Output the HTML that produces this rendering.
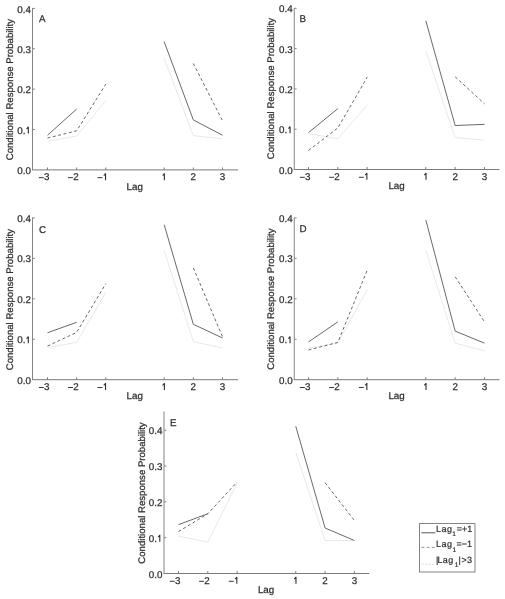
<!DOCTYPE html>
<html><head><meta charset="utf-8"><style>
html,body{margin:0;padding:0;background:#fff;}
svg{display:block;will-change:transform;text-rendering:geometricPrecision;}
.t{font-family:"Liberation Sans", sans-serif;font-size:9.8px;fill:#2e2e2e;stroke:#2e2e2e;stroke-width:0.25px;}
.l{font-family:"Liberation Sans", sans-serif;fill:#2e2e2e;stroke:#2e2e2e;stroke-width:0.2px;}
</style></head><body>
<svg width="505" height="599" viewBox="0 0 505 599">
<rect width="505" height="599" fill="#fff"/>
<path d="M32.50 8.00V169.90" fill="none" stroke="#848484" stroke-width="1"/>
<path d="M32.00 169.90H238.00" fill="none" stroke="#7a7a7a" stroke-width="1"/>
<text x="30.90" y="174.00" text-anchor="end" class="t">0.0</text>
<path d="M32.50 129.53h2.4" stroke="#848484" stroke-width="1"/>
<text x="17.30" y="133.62" class="t">0.</text>
<path d="M26.50 128.82Q27.80 128.22 28.30 126.72V133.62" fill="none" stroke="#2e2e2e" stroke-width="1.1"/>
<path d="M32.50 89.15h2.4" stroke="#848484" stroke-width="1"/>
<text x="30.90" y="93.25" text-anchor="end" class="t">0.2</text>
<path d="M32.50 48.78h2.4" stroke="#848484" stroke-width="1"/>
<text x="30.90" y="52.88" text-anchor="end" class="t">0.3</text>
<path d="M32.50 8.40h2.4" stroke="#848484" stroke-width="1"/>
<text x="30.90" y="12.50" text-anchor="end" class="t">0.4</text>
<path d="M47.49 169.90v-2.4" stroke="#7a7a7a" stroke-width="1"/>
<rect x="38.79" y="177.20" width="5.0" height="0.95" fill="#2e2e2e"/>
<text x="43.99" y="180.20" class="t">3</text>
<path d="M76.66 169.90v-2.4" stroke="#7a7a7a" stroke-width="1"/>
<rect x="67.96" y="177.20" width="5.0" height="0.95" fill="#2e2e2e"/>
<text x="73.16" y="180.20" class="t">2</text>
<path d="M105.83 169.90v-2.4" stroke="#7a7a7a" stroke-width="1"/>
<rect x="97.43" y="177.20" width="5.0" height="0.95" fill="#2e2e2e"/>
<path d="M103.73 175.40Q105.03 174.80 105.53 173.30V180.20" fill="none" stroke="#2e2e2e" stroke-width="1.1"/>
<path d="M164.17 169.90v-2.4" stroke="#7a7a7a" stroke-width="1"/>
<path d="M162.57 175.40Q163.87 174.80 164.37 173.30V180.20" fill="none" stroke="#2e2e2e" stroke-width="1.1"/>
<path d="M193.34 169.90v-2.4" stroke="#7a7a7a" stroke-width="1"/>
<text x="193.34" y="180.20" text-anchor="middle" class="t">2</text>
<path d="M222.51 169.90v-2.4" stroke="#7a7a7a" stroke-width="1"/>
<text x="222.51" y="180.20" text-anchor="middle" class="t">3</text>
<text x="134.80" y="189.60" text-anchor="middle" class="t">Lag</text>
<text transform="translate(13.30 89.60) rotate(-90)" text-anchor="middle" class="t" style="font-size:9.6px">Conditional Response Probability</text>
<text x="38.90" y="21.90" class="t">A</text>
<path d="M47.49 141.29 L76.66 136.05 L105.83 100.59" fill="none" stroke="#e9e9e9" stroke-width="1.0"/>
<path d="M164.17 58.27 L193.34 135.65 L222.51 138.87" fill="none" stroke="#e9e9e9" stroke-width="1.0"/>
<path d="M47.49 138.07 L76.66 130.81 L105.83 84.06" fill="none" stroke="#686868" stroke-width="1.0" stroke-dasharray="3 2.5"/>
<path d="M193.34 63.51 L222.51 120.74" fill="none" stroke="#686868" stroke-width="1.0" stroke-dasharray="3 2.5"/>
<path d="M47.49 135.25 L76.66 109.05" fill="none" stroke="#6a6a6a" stroke-width="1.0"/>
<path d="M164.17 41.75 L193.34 119.93 L222.51 135.25" fill="none" stroke="#6a6a6a" stroke-width="1.0"/>
<path d="M294.25 8.00V169.50" fill="none" stroke="#848484" stroke-width="1"/>
<path d="M293.75 169.50H499.50" fill="none" stroke="#7a7a7a" stroke-width="1"/>
<text x="292.65" y="173.60" text-anchor="end" class="t">0.0</text>
<path d="M294.25 129.20h2.4" stroke="#848484" stroke-width="1"/>
<text x="279.05" y="133.30" class="t">0.</text>
<path d="M288.25 128.50Q289.55 127.90 290.05 126.40V133.30" fill="none" stroke="#2e2e2e" stroke-width="1.1"/>
<path d="M294.25 88.90h2.4" stroke="#848484" stroke-width="1"/>
<text x="292.65" y="93.00" text-anchor="end" class="t">0.2</text>
<path d="M294.25 48.60h2.4" stroke="#848484" stroke-width="1"/>
<text x="292.65" y="52.70" text-anchor="end" class="t">0.3</text>
<path d="M294.25 8.30h2.4" stroke="#848484" stroke-width="1"/>
<text x="292.65" y="12.40" text-anchor="end" class="t">0.4</text>
<path d="M308.51 169.50v-2.4" stroke="#7a7a7a" stroke-width="1"/>
<rect x="299.81" y="176.80" width="5.0" height="0.95" fill="#2e2e2e"/>
<text x="305.01" y="179.80" class="t">3</text>
<path d="M337.84 169.50v-2.4" stroke="#7a7a7a" stroke-width="1"/>
<rect x="329.14" y="176.80" width="5.0" height="0.95" fill="#2e2e2e"/>
<text x="334.34" y="179.80" class="t">2</text>
<path d="M367.17 169.50v-2.4" stroke="#7a7a7a" stroke-width="1"/>
<rect x="358.77" y="176.80" width="5.0" height="0.95" fill="#2e2e2e"/>
<path d="M365.07 175.00Q366.37 174.40 366.87 172.90V179.80" fill="none" stroke="#2e2e2e" stroke-width="1.1"/>
<path d="M425.83 169.50v-2.4" stroke="#7a7a7a" stroke-width="1"/>
<path d="M424.23 175.00Q425.53 174.40 426.03 172.90V179.80" fill="none" stroke="#2e2e2e" stroke-width="1.1"/>
<path d="M455.16 169.50v-2.4" stroke="#7a7a7a" stroke-width="1"/>
<text x="455.16" y="179.80" text-anchor="middle" class="t">2</text>
<path d="M484.49 169.50v-2.4" stroke="#7a7a7a" stroke-width="1"/>
<text x="484.49" y="179.80" text-anchor="middle" class="t">3</text>
<text x="396.60" y="189.30" text-anchor="middle" class="t">Lag</text>
<text transform="translate(274.05 88.60) rotate(-90)" text-anchor="middle" class="t" style="font-size:9.6px">Conditional Response Probability</text>
<text x="299.60" y="21.80" class="t">B</text>
<path d="M308.51 133.58 L337.84 138.81 L367.17 105.00" fill="none" stroke="#e9e9e9" stroke-width="1.0"/>
<path d="M425.83 51.07 L455.16 137.60 L484.49 140.02" fill="none" stroke="#e9e9e9" stroke-width="1.0"/>
<path d="M308.51 150.48 L337.84 127.94 L367.17 77.23" fill="none" stroke="#686868" stroke-width="1.0" stroke-dasharray="3 2.5"/>
<path d="M455.16 76.83 L484.49 103.79" fill="none" stroke="#686868" stroke-width="1.0" stroke-dasharray="3 2.5"/>
<path d="M308.51 132.57 L337.84 108.62" fill="none" stroke="#6a6a6a" stroke-width="1.0"/>
<path d="M425.83 20.88 L455.16 125.53 L484.49 124.32" fill="none" stroke="#6a6a6a" stroke-width="1.0"/>
<path d="M32.50 217.50V379.70" fill="none" stroke="#848484" stroke-width="1"/>
<path d="M32.00 379.70H238.00" fill="none" stroke="#7a7a7a" stroke-width="1"/>
<text x="30.90" y="383.80" text-anchor="end" class="t">0.0</text>
<path d="M32.50 339.25h2.4" stroke="#848484" stroke-width="1"/>
<text x="17.30" y="343.35" class="t">0.</text>
<path d="M26.50 338.55Q27.80 337.95 28.30 336.45V343.35" fill="none" stroke="#2e2e2e" stroke-width="1.1"/>
<path d="M32.50 298.80h2.4" stroke="#848484" stroke-width="1"/>
<text x="30.90" y="302.90" text-anchor="end" class="t">0.2</text>
<path d="M32.50 258.35h2.4" stroke="#848484" stroke-width="1"/>
<text x="30.90" y="262.45" text-anchor="end" class="t">0.3</text>
<path d="M32.50 217.90h2.4" stroke="#848484" stroke-width="1"/>
<text x="30.90" y="222.00" text-anchor="end" class="t">0.4</text>
<path d="M47.49 379.70v-2.4" stroke="#7a7a7a" stroke-width="1"/>
<rect x="38.79" y="387.00" width="5.0" height="0.95" fill="#2e2e2e"/>
<text x="43.99" y="390.00" class="t">3</text>
<path d="M76.66 379.70v-2.4" stroke="#7a7a7a" stroke-width="1"/>
<rect x="67.96" y="387.00" width="5.0" height="0.95" fill="#2e2e2e"/>
<text x="73.16" y="390.00" class="t">2</text>
<path d="M105.83 379.70v-2.4" stroke="#7a7a7a" stroke-width="1"/>
<rect x="97.43" y="387.00" width="5.0" height="0.95" fill="#2e2e2e"/>
<path d="M103.73 385.20Q105.03 384.60 105.53 383.10V390.00" fill="none" stroke="#2e2e2e" stroke-width="1.1"/>
<path d="M164.17 379.70v-2.4" stroke="#7a7a7a" stroke-width="1"/>
<path d="M162.57 385.20Q163.87 384.60 164.37 383.10V390.00" fill="none" stroke="#2e2e2e" stroke-width="1.1"/>
<path d="M193.34 379.70v-2.4" stroke="#7a7a7a" stroke-width="1"/>
<text x="193.34" y="390.00" text-anchor="middle" class="t">2</text>
<path d="M222.51 379.70v-2.4" stroke="#7a7a7a" stroke-width="1"/>
<text x="222.51" y="390.00" text-anchor="middle" class="t">3</text>
<text x="134.80" y="398.80" text-anchor="middle" class="t">Lag</text>
<text transform="translate(13.30 299.60) rotate(-90)" text-anchor="middle" class="t" style="font-size:9.6px">Conditional Response Probability</text>
<text x="38.90" y="232.70" class="t">C</text>
<path d="M47.49 347.66 L76.66 342.42 L105.83 292.45" fill="none" stroke="#e9e9e9" stroke-width="1.0"/>
<path d="M164.17 250.54 L193.34 341.62 L222.51 348.07" fill="none" stroke="#e9e9e9" stroke-width="1.0"/>
<path d="M47.49 346.05 L76.66 332.35 L105.83 283.59" fill="none" stroke="#686868" stroke-width="1.0" stroke-dasharray="3 2.5"/>
<path d="M193.34 267.87 L222.51 336.78" fill="none" stroke="#686868" stroke-width="1.0" stroke-dasharray="3 2.5"/>
<path d="M47.49 332.75 L76.66 322.27" fill="none" stroke="#6a6a6a" stroke-width="1.0"/>
<path d="M164.17 224.75 L193.34 324.29 L222.51 337.99" fill="none" stroke="#6a6a6a" stroke-width="1.0"/>
<path d="M294.25 217.50V379.70" fill="none" stroke="#848484" stroke-width="1"/>
<path d="M293.75 379.70H499.50" fill="none" stroke="#7a7a7a" stroke-width="1"/>
<text x="292.65" y="383.80" text-anchor="end" class="t">0.0</text>
<path d="M294.25 339.25h2.4" stroke="#848484" stroke-width="1"/>
<text x="279.05" y="343.35" class="t">0.</text>
<path d="M288.25 338.55Q289.55 337.95 290.05 336.45V343.35" fill="none" stroke="#2e2e2e" stroke-width="1.1"/>
<path d="M294.25 298.80h2.4" stroke="#848484" stroke-width="1"/>
<text x="292.65" y="302.90" text-anchor="end" class="t">0.2</text>
<path d="M294.25 258.35h2.4" stroke="#848484" stroke-width="1"/>
<text x="292.65" y="262.45" text-anchor="end" class="t">0.3</text>
<path d="M294.25 217.90h2.4" stroke="#848484" stroke-width="1"/>
<text x="292.65" y="222.00" text-anchor="end" class="t">0.4</text>
<path d="M308.51 379.70v-2.4" stroke="#7a7a7a" stroke-width="1"/>
<rect x="299.81" y="387.00" width="5.0" height="0.95" fill="#2e2e2e"/>
<text x="305.01" y="390.00" class="t">3</text>
<path d="M337.84 379.70v-2.4" stroke="#7a7a7a" stroke-width="1"/>
<rect x="329.14" y="387.00" width="5.0" height="0.95" fill="#2e2e2e"/>
<text x="334.34" y="390.00" class="t">2</text>
<path d="M367.17 379.70v-2.4" stroke="#7a7a7a" stroke-width="1"/>
<rect x="358.77" y="387.00" width="5.0" height="0.95" fill="#2e2e2e"/>
<path d="M365.07 385.20Q366.37 384.60 366.87 383.10V390.00" fill="none" stroke="#2e2e2e" stroke-width="1.1"/>
<path d="M425.83 379.70v-2.4" stroke="#7a7a7a" stroke-width="1"/>
<path d="M424.23 385.20Q425.53 384.60 426.03 383.10V390.00" fill="none" stroke="#2e2e2e" stroke-width="1.1"/>
<path d="M455.16 379.70v-2.4" stroke="#7a7a7a" stroke-width="1"/>
<text x="455.16" y="390.00" text-anchor="middle" class="t">2</text>
<path d="M484.49 379.70v-2.4" stroke="#7a7a7a" stroke-width="1"/>
<text x="484.49" y="390.00" text-anchor="middle" class="t">3</text>
<text x="396.60" y="398.80" text-anchor="middle" class="t">Lag</text>
<text transform="translate(274.05 299.10) rotate(-90)" text-anchor="middle" class="t" style="font-size:9.6px">Conditional Response Probability</text>
<text x="299.60" y="231.80" class="t">D</text>
<path d="M308.51 348.00 L337.84 343.17 L367.17 289.64" fill="none" stroke="#e9e9e9" stroke-width="1.0"/>
<path d="M425.83 250.20 L455.16 343.17 L484.49 350.82" fill="none" stroke="#e9e9e9" stroke-width="1.0"/>
<path d="M308.51 350.02 L337.84 342.37 L367.17 270.32" fill="none" stroke="#686868" stroke-width="1.0" stroke-dasharray="3 2.5"/>
<path d="M455.16 276.76 L484.49 321.84" fill="none" stroke="#686868" stroke-width="1.0" stroke-dasharray="3 2.5"/>
<path d="M308.51 341.97 L337.84 321.84" fill="none" stroke="#6a6a6a" stroke-width="1.0"/>
<path d="M425.83 220.01 L455.16 331.10 L484.49 343.17" fill="none" stroke="#6a6a6a" stroke-width="1.0"/>
<path d="M164.00 411.50V573.50" fill="none" stroke="#848484" stroke-width="1"/>
<path d="M163.50 573.50H369.40" fill="none" stroke="#7a7a7a" stroke-width="1"/>
<text x="162.40" y="577.60" text-anchor="end" class="t">0.0</text>
<path d="M164.00 537.67h2.4" stroke="#848484" stroke-width="1"/>
<text x="148.80" y="541.77" class="t">0.</text>
<path d="M158.00 536.97Q159.30 536.37 159.80 534.87V541.77" fill="none" stroke="#2e2e2e" stroke-width="1.1"/>
<path d="M164.00 501.84h2.4" stroke="#848484" stroke-width="1"/>
<text x="162.40" y="505.94" text-anchor="end" class="t">0.2</text>
<path d="M164.00 466.01h2.4" stroke="#848484" stroke-width="1"/>
<text x="162.40" y="470.11" text-anchor="end" class="t">0.3</text>
<path d="M164.00 430.18h2.4" stroke="#848484" stroke-width="1"/>
<text x="162.40" y="434.28" text-anchor="end" class="t">0.4</text>
<path d="M178.49 573.50v-2.4" stroke="#7a7a7a" stroke-width="1"/>
<rect x="169.79" y="580.80" width="5.0" height="0.95" fill="#2e2e2e"/>
<text x="174.99" y="583.80" class="t">3</text>
<path d="M207.81 573.50v-2.4" stroke="#7a7a7a" stroke-width="1"/>
<rect x="199.11" y="580.80" width="5.0" height="0.95" fill="#2e2e2e"/>
<text x="204.31" y="583.80" class="t">2</text>
<path d="M237.13 573.50v-2.4" stroke="#7a7a7a" stroke-width="1"/>
<rect x="228.73" y="580.80" width="5.0" height="0.95" fill="#2e2e2e"/>
<path d="M235.03 579.00Q236.33 578.40 236.83 576.90V583.80" fill="none" stroke="#2e2e2e" stroke-width="1.1"/>
<path d="M295.77 573.50v-2.4" stroke="#7a7a7a" stroke-width="1"/>
<path d="M294.17 579.00Q295.47 578.40 295.97 576.90V583.80" fill="none" stroke="#2e2e2e" stroke-width="1.1"/>
<path d="M325.09 573.50v-2.4" stroke="#7a7a7a" stroke-width="1"/>
<text x="325.09" y="583.80" text-anchor="middle" class="t">2</text>
<path d="M354.41 573.50v-2.4" stroke="#7a7a7a" stroke-width="1"/>
<text x="354.41" y="583.80" text-anchor="middle" class="t">3</text>
<text x="266.10" y="592.70" text-anchor="middle" class="t">Lag</text>
<text transform="translate(145.00 493.00) rotate(-90)" text-anchor="middle" class="t" style="font-size:9.6px">Conditional Response Probability</text>
<text x="169.90" y="426.00" class="t">E</text>
<path d="M178.49 536.23 L207.81 541.94 L237.13 483.04" fill="none" stroke="#e9e9e9" stroke-width="1.0"/>
<path d="M295.77 452.33 L325.09 540.51 L354.41 540.51" fill="none" stroke="#e9e9e9" stroke-width="1.0"/>
<path d="M178.49 531.59 L207.81 513.74 L237.13 481.97" fill="none" stroke="#686868" stroke-width="1.0" stroke-dasharray="3 2.5"/>
<path d="M325.09 482.68 L354.41 520.52" fill="none" stroke="#686868" stroke-width="1.0" stroke-dasharray="3 2.5"/>
<path d="M178.49 524.63 L207.81 513.74" fill="none" stroke="#6a6a6a" stroke-width="1.0"/>
<path d="M295.77 426.27 L325.09 528.02 L354.41 540.51" fill="none" stroke="#6a6a6a" stroke-width="1.0"/>
<rect x="419.5" y="523.5" width="55.5" height="48.5" fill="#fff" stroke="#848484" stroke-width="1"/>
<path d="M421.4 532.8H435.4" stroke="#555" stroke-width="1"/>
<text x="436.1" y="531.5" class="l" style="font-size:9px;letter-spacing:0.45px">Lag</text>
<text x="452.2" y="536.2" class="l" style="font-size:6.6px">1</text>
<text x="456.8" y="531.5" class="l" style="font-size:9px">=+1</text>
<path d="M421.4 547.4H435.4" stroke="#999" stroke-width="1" stroke-dasharray="3 2.2"/>
<text x="436.1" y="546.8" class="l" style="font-size:9px;letter-spacing:0.45px">Lag</text>
<text x="452.6" y="551.5" class="l" style="font-size:6.6px">1</text>
<text x="456.4" y="546.8" class="l" style="font-size:9px">=−1</text>
<path d="M421.4 564.2H435.4" stroke="#d4d4d4" stroke-width="1" stroke-dasharray="2 1.5"/>
<text x="436.0" y="562.9" class="l" style="font-size:9px">|</text>
<text x="437.4" y="562.9" class="l" style="font-size:9px;letter-spacing:0.45px">Lag</text>
<text x="454.8" y="567.1" class="l" style="font-size:6.6px">1</text>
<text x="458.6" y="562.9" class="l" style="font-size:9px;letter-spacing:0.45px">|&gt;3</text>
</svg>
</body></html>
